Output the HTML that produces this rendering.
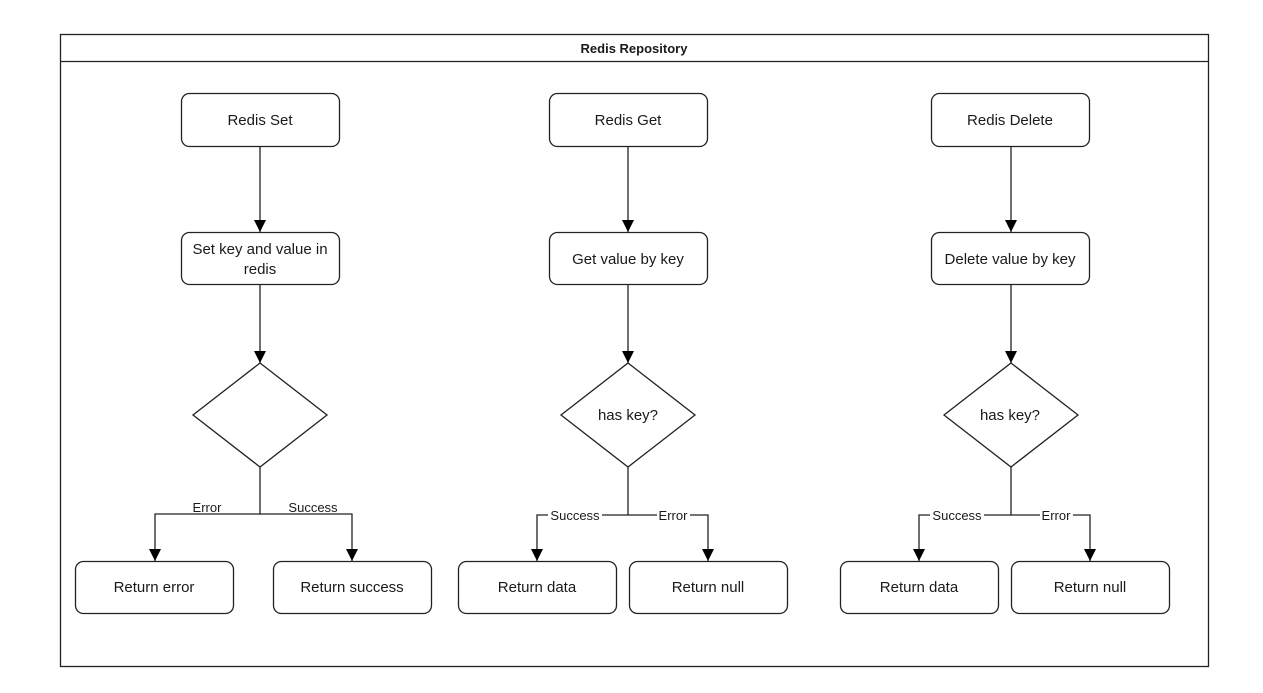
<!DOCTYPE html>
<html><head><meta charset="utf-8"><style>
html,body{margin:0;padding:0;background:#fff;width:1263px;height:693px;overflow:hidden}
text{font-family:"Liberation Sans",Arial,sans-serif;fill:#1a1a1a}
</style></head><body>
<svg width="1263" height="693" viewBox="0 0 1263 693" xmlns="http://www.w3.org/2000/svg">
<defs><marker id="a" markerWidth="13" markerHeight="12" refX="12" refY="6" orient="auto" markerUnits="userSpaceOnUse">
<path d="M0,0 L12,6 L0,12 Z" fill="#000"/></marker></defs>
<g fill="none" stroke="#222" stroke-width="1.3">
<rect x="60.5" y="34.5" width="1148" height="632"/>
<line x1="60" y1="61.5" x2="1208" y2="61.5"/>
</g>
<text x="634" y="53" font-size="13" font-weight="bold" text-anchor="middle">Redis Repository</text>
<g fill="#fff" stroke="#222" stroke-width="1.3">
<rect x="181.5" y="93.5" width="158" height="53" rx="8"/>
<rect x="181.5" y="232.5" width="158" height="52" rx="8"/>
<polygon points="260,363 327,415 260,467 193,415"/>
<rect x="75.5" y="561.5" width="158" height="52" rx="8"/>
<rect x="273.5" y="561.5" width="158" height="52" rx="8"/>
<rect x="549.5" y="93.5" width="158" height="53" rx="8"/>
<rect x="549.5" y="232.5" width="158" height="52" rx="8"/>
<polygon points="628,363 695,415 628,467 561,415"/>
<rect x="458.5" y="561.5" width="158" height="52" rx="8"/>
<rect x="629.5" y="561.5" width="158" height="52" rx="8"/>
<rect x="931.5" y="93.5" width="158" height="53" rx="8"/>
<rect x="931.5" y="232.5" width="158" height="52" rx="8"/>
<polygon points="1011,363 1078,415 1011,467 944,415"/>
<rect x="840.5" y="561.5" width="158" height="52" rx="8"/>
<rect x="1011.5" y="561.5" width="158" height="52" rx="8"/>
</g>
<g fill="none" stroke="#222" stroke-width="1.3" marker-end="url(#a)">
<line x1="260" y1="147" x2="260" y2="232"/>
<line x1="260" y1="285" x2="260" y2="363"/>
<polyline points="260,467 260,514 155,514 155,561"/>
<polyline points="260,514 352,514 352,561"/>
<line x1="628" y1="147" x2="628" y2="232"/>
<line x1="628" y1="285" x2="628" y2="363"/>
<polyline points="628,467 628,515 537,515 537,561"/>
<polyline points="628,515 708,515 708,561"/>
<line x1="1011" y1="147" x2="1011" y2="232"/>
<line x1="1011" y1="285" x2="1011" y2="363"/>
<polyline points="1011,467 1011,515 919,515 919,561"/>
<polyline points="1011,515 1090,515 1090,561"/>
</g>
<g fill="#fff">
<rect x="548" y="508" width="54" height="14"/><rect x="657" y="508" width="33" height="14"/>
<rect x="930" y="508" width="54" height="14"/><rect x="1040" y="508" width="33" height="14"/>
</g>
<g font-size="15" text-anchor="middle">
<text x="260" y="125">Redis Set</text>
<text x="260" y="254">Set key and value in</text>
<text x="260" y="274">redis</text>
<text x="154" y="592">Return error</text>
<text x="352" y="592">Return success</text>
<text x="628" y="125">Redis Get</text>
<text x="628" y="264">Get value by key</text>
<text x="628" y="420">has key?</text>
<text x="537" y="592">Return data</text>
<text x="708" y="592">Return null</text>
<text x="1010" y="125">Redis Delete</text>
<text x="1010" y="264">Delete value by key</text>
<text x="1010" y="420">has key?</text>
<text x="919" y="592">Return data</text>
<text x="1090" y="592">Return null</text>
</g>
<g font-size="13" text-anchor="middle">
<text x="207" y="512">Error</text>
<text x="313" y="512">Success</text>
<text x="575" y="520">Success</text>
<text x="673" y="520">Error</text>
<text x="957" y="520">Success</text>
<text x="1056" y="520">Error</text>
</g>
</svg>
</body></html>
